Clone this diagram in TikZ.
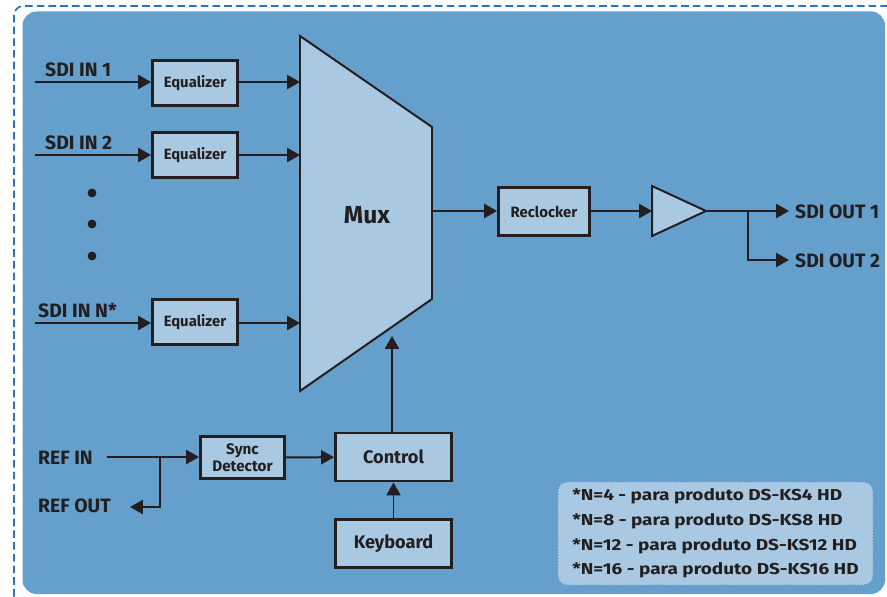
\documentclass[tikz,border=0pt]{standalone}
\usepackage{fontspec}
\setmainfont{Fira Sans}
\newfontfamily\notefont{Fira Sans}[FakeStretch=1.2]
\usetikzlibrary{positioning,calc,arrows.meta}

\definecolor{panelblue}{HTML}{65A0CD}
\definecolor{boxblue}{HTML}{A9C9E3}
\definecolor{inkdark}{HTML}{231F20}
\definecolor{framedash}{HTML}{2B74BC}
\definecolor{noteedge}{HTML}{3A78B8}

\tikzset{
  sig/.style={draw=inkdark, line width=1.7pt, -{Triangle[length=11pt,width=12pt]}},
  block/.style={draw=inkdark, line width=2.5pt, fill=boxblue, text=inkdark, inner sep=0pt, align=center},
  eqbox/.style={block, minimum width=2.55cm, minimum height=1.35cm, font=\bfseries\fontsize{12.7}{14}\selectfont},
  clkbox/.style={block, minimum width=2.73cm, minimum height=1.44cm, font=\bfseries\fontsize{12.7}{14}\selectfont},
  syncbox/.style={block, minimum width=2.52cm, minimum height=1.26cm, font=\bfseries\fontsize{13}{14.5}\selectfont},
  ctlbox/.style={block, minimum width=3.48cm, minimum height=1.44cm, font=\bfseries\fontsize{15.5}{18}\selectfont},
  siglabel/.style={text=inkdark, inner sep=0pt, font=\bfseries\fontsize{16.5}{18}\selectfont},
  shape outline/.style={draw=inkdark, fill=boxblue, line width=1.7pt, line join=miter},
  notebox/.style={draw=noteedge, line width=0.6pt, dotted, fill=boxblue, rounded corners=8pt,
    minimum width=9.45cm, minimum height=3.09cm, align=left, text=inkdark,
    font=\notefont\bfseries\fontsize{13.5}{21}\selectfont}
}

\begin{document}
\begin{tikzpicture}[x=0.03cm, y=-0.03cm]
    \useasboundingbox (0,0) rectangle (887,597);
    % Frame and panel
    \draw[framedash, line width=1.4pt, dash pattern=on 6.5pt off 3.5pt, rounded corners=8pt] (14,620) -- (14,6) -- (910,6);
    \fill[panelblue, rounded corners=12pt] (22.5,11.5) rectangle (885,594);

    % Inputs
    \node[eqbox] (eq1) at (195,83) {Equalizer};
    \node[eqbox] (eq2) at (195,155) {Equalizer};
    \node[eqbox] (eqn) at (195,322) {Equalizer};
    \coordinate (in1) at (35,82);
    \coordinate (in2) at (35,155);
    \coordinate (inn) at (35,323);
    \node[siglabel, anchor=base west] (lin1) at (45,77) {SDI IN 1};
    \node[siglabel, anchor=base west] (lin2) at (45,150) {SDI IN 2};
    \node[siglabel, anchor=base west] (linn) at (38,318) {SDI IN N*};
    \foreach \y in {193,224,256}
        \fill[inkdark] (92,\y) circle (3.8pt);

    % Mux
    \coordinate (muxTL) at (300,36);
    \coordinate (muxTR) at (432,127);
    \coordinate (muxBR) at (432,299);
    \coordinate (muxBL) at (300,391);
    \draw[shape outline] (muxTL) -- (muxTR) -- (muxBR) -- (muxBL) -- cycle;
    \node[text=inkdark, font=\bfseries\fontsize{21}{24}\selectfont] (mux) at (367,215) {Mux};
    \draw[sig] (in1) -- (in1 -| eq1.west);
    \draw[sig] (in2) -- (in2 -| eq2.west);
    \draw[sig] (inn) -- (inn -| eqn.west);
    \draw[sig] (eq1.east |- in1) -- (muxTL |- in1);
    \draw[sig] (eq2.east |- in2) -- (muxTL |- in2);
    \draw[sig] (eqn.east |- inn) -- (muxTL |- inn);

    % Output chain
    \node[clkbox] (reclk) at (544,211.5) {Reclocker};
    \coordinate (muxout) at (432,211);
    \draw[sig] (muxout) -- (muxout -| reclk.west);
    \coordinate (ampT) at (652,186);
    \coordinate (ampL) at (652,211);
    \coordinate (ampB) at (652,236);
    \coordinate (ampR) at (706,211);
    \draw[shape outline] (ampT) -- (ampR) -- (ampB) -- cycle;
    \draw[sig] (reclk.east |- ampL) -- (ampL);
    \coordinate (split) at (748,211);
    \coordinate (out1) at (789,211);
    \coordinate (out2) at (789,260);
    \draw[sig] (ampR) -- (out1);
    \draw[sig] (split) |- (out2);
    \node[siglabel, anchor=west] (lout1) at (795,212) {SDI OUT 1};
    \node[siglabel, anchor=west] (lout2) at (795,261) {SDI OUT 2};

    % Reference and control
    \node[syncbox] (sync) at (242.5,457.5) {Sync\\Detector};
    \node[ctlbox] (ctrl) at (393.5,457) {Control};
    \node[ctlbox] (kbd) at (393.5,543.5) {Keyboard};
    \coordinate (refin) at (107,457);
    \coordinate (refsplit) at (160,457);
    \coordinate (refout) at (130,507);
    \node[siglabel, anchor=west] (lrefin) at (38,458) {REF IN};
    \node[siglabel, anchor=west] (lrefout) at (38,506) {REF OUT};
    \draw[sig] (refin) -- (refin -| sync.west);
    \draw[sig] (refsplit) |- (refout);
    \draw[sig] (sync) -- (ctrl);
    \coordinate (muxsel) at (392,336);
    \draw[sig] (ctrl.north -| muxsel) -- (muxsel);
    \draw[sig] (kbd) -- (ctrl);

    % Notes
    \node[notebox] (notes) at (715.5,533.5) {*N=4 - para produto DS-KS4 HD\\*N=8 - para produto DS-KS8 HD\\*N=12 - para produto DS-KS12 HD\\*N=16 - para produto DS-KS16 HD};
\end{tikzpicture}
\end{document}
